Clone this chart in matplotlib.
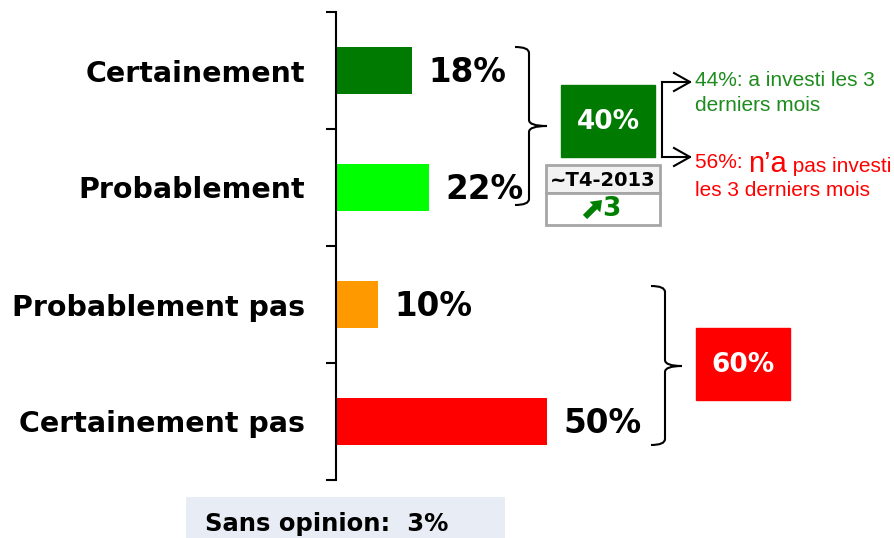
import matplotlib
matplotlib.use("Agg")
import matplotlib.pyplot as plt
from matplotlib.path import Path
from matplotlib.patches import PathPatch, Rectangle, FancyArrow

# data
categories = ["Certainement", "Probablement", "Probablement pas", "Certainement pas"]
values = [18, 22, 10, 50]
bar_colors = ["#007A00", "#00FF00", "#FF9900", "#FF0000"]
split_labels = ["a investi les 3\nderniers mois", "pas investi"]
split_values = [44, 56]
sans_opinion = 3
period = "~T4-2013"
trend = 3

plt.rcParams["font.family"] = ["DejaVu Sans"]

fig = plt.figure(figsize=(8.95, 5.38), dpi=100)
W, H = 895, 538

# main bar axes: left spine at x=336px, from y=12px to y=480px
ax = fig.add_axes([336 / W, 1 - 480 / H, (W - 336) / W, 468 / H])
ypos = list(range(len(categories)))
ax.barh(ypos, values, height=0.41, color=bar_colors)
ax.set_xlim(0, (W - 336) / 4.22)
ax.set_ylim(3.5, -0.5)

for y, v in zip(ypos, values):
    ax.annotate(f"{v}%", (v, y), xytext=(12, -1.5), textcoords="offset points",
                va="center", ha="left", fontsize=23.5, fontweight="bold")

for s in ["top", "right", "bottom"]:
    ax.spines[s].set_visible(False)
ax.spines["left"].set_linewidth(1.5)
ax.set_xticks([])
ax.set_yticks([-0.5, 0.5, 1.5, 2.5, 3.5])
ax.set_yticklabels([])
ax.tick_params(axis="y", which="major", length=7, width=1.5, direction="out")
ax.set_yticks(ypos, minor=True)
ax.set_yticklabels(categories, minor=True, fontsize=20.5, fontweight="bold")
ax.tick_params(axis="y", which="minor", length=0, pad=22)

# overlay in pixel coordinates for the annotations
ov = fig.add_axes([0, 0, 1, 1])
ov.set_xlim(0, W)
ov.set_ylim(H, 0)
ov.axis("off")
ov.patch.set_visible(False)


def brace(x, y0, y1, ym, hook, nub, r=6):
    verts = [(x - hook, y0), (x, y0), (x, y0 + r),
             (x, ym - r), (x, ym), (x + nub, ym),
             (x, ym), (x, ym + r),
             (x, y1 - r), (x, y1), (x - hook, y1)]
    codes = [Path.MOVETO, Path.CURVE3, Path.CURVE3,
             Path.LINETO, Path.CURVE3, Path.CURVE3,
             Path.CURVE3, Path.CURVE3,
             Path.LINETO, Path.CURVE3, Path.CURVE3]
    ov.add_patch(PathPatch(Path(verts, codes), fill=False, lw=1.5, ec="black"))


brace(529, 47, 205, 126, 14, 18)
brace(665, 286, 445, 366, 14, 17)

# group totals
top_total = values[0] + values[1]
low_total = values[2] + values[3]
ov.add_patch(Rectangle((561, 85), 94, 72, color=bar_colors[0]))
ov.text(608, 122, f"{top_total}%", color="white", fontsize=19, fontweight="bold",
        ha="center", va="center")
ov.add_patch(Rectangle((696, 328), 94, 72, color=bar_colors[3]))
ov.text(743, 365, f"{low_total}%", color="white", fontsize=19, fontweight="bold",
        ha="center", va="center")

# comparison box
ov.add_patch(Rectangle((546, 165), 114, 28, fc="#F2F2F2", ec="#A6A6A6", lw=2))
ov.add_patch(Rectangle((546, 193), 114, 32, fc="white", ec="#A6A6A6", lw=2))
ov.text(603, 180, period, fontsize=14, fontweight="bold", ha="center", va="center")
ov.add_patch(FancyArrow(585, 217, 17, -17, width=6, head_width=15, head_length=10,
                        length_includes_head=True, color="#008000", lw=0))
ov.text(602, 209, f"{trend}", fontsize=19, fontweight="bold", color="#008000",
        ha="left", va="center")

# split arrows
ov.plot([662, 662], [82, 157], color="black", lw=1.5)
for yy in (82, 157):
    ov.plot([662, 690], [yy, yy], color="black", lw=1.5)
    ov.plot([674, 690, 674], [yy - 9, yy, yy - 9 + 18], color="black", lw=1.5)

green_txt = "#1E8C1E"
ov.text(695, 93, f"{split_values[0]}%: {split_labels[0]}", color=green_txt,
        fontsize=15, family="Liberation Sans", ha="left", va="center",
        linespacing=1.35)
t1 = ov.text(695, 162, f"{split_values[1]}%: ", color="red", fontsize=15,
             family="Liberation Sans", ha="left", va="center")
fig.canvas.draw()
bb = t1.get_window_extent()
t2 = ov.annotate("n\u2019a", (bb.x1, bb.y0), xycoords="figure pixels",
                 color="red", fontsize=21, family="Liberation Sans", ha="left",
                 va="baseline")
fig.canvas.draw()
bb2 = t2.get_window_extent()
ov.annotate(" " + split_labels[1], (bb2.x1, bb.y0), xycoords="figure pixels",
            color="red", fontsize=15, family="Liberation Sans", ha="left", va="baseline")
ov.text(695, 190, "les 3 derniers mois", color="red", fontsize=15,
        family="Liberation Sans", ha="left", va="center")

# sans opinion box
ov.add_patch(Rectangle((186, 497), 319, 45, fc="#E8ECF4", ec="none"))
ov.text(205, 524, f"Sans opinion:  {sans_opinion}%", fontsize=17.5, fontweight="bold",
        ha="left", va="center")

fig.savefig("out.png", dpi=100)
